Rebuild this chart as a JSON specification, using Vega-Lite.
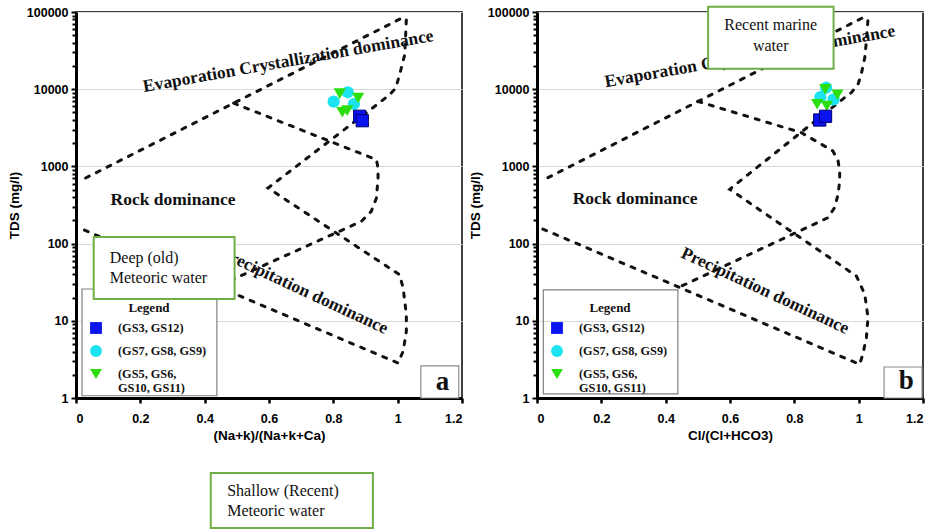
{
  "$schema": "https://vega.github.io/schema/vega-lite/v6.json",
  "background": "white",
  "padding": {"left": 6, "top": 4, "right": 5, "bottom": 0},
  "bounds": "flush",
  "spacing": 75,
  "config": {
    "view": {"stroke": "#000", "strokeWidth": 1.5},
    "axis": {
      "domainColor": "#000",
      "domainWidth": 3,
      "tickColor": "#000",
      "labelFont": "Liberation Sans",
      "labelFontWeight": "bold",
      "labelFontSize": 12.5,
      "labelColor": "#000",
      "titleFont": "Liberation Sans",
      "titleFontWeight": "bold",
      "titleFontSize": 13.5,
      "titleColor": "#000"
    },
    "axisX": {"tickSize": 5, "tickWidth": 2.5, "labelPadding": 9, "titlePadding": 4, "grid": false},
    "axisY": {"labelPadding": 3, "titlePadding": 5, "gridColor": "#d9d9d9", "tickWidth": 2},
    "legend": {
      "orient": "none", "legendX": 8, "legendY": 282, "direction": "vertical", "padding": 8,
      "titleFont": "Liberation Serif", "titleFontSize": 13, "titleFontWeight": "bold", "titleColor": "#111",
      "titleAnchor": "middle", "titlePadding": 6,
      "labelFont": "Liberation Serif", "labelFontSize": 12.3, "labelFontWeight": "bold", "labelColor": "#111",
      "labelOffset": 15, "rowPadding": 9, "symbolSize": 140, "symbolOffset": -3, "labelLimit": 200
    }
  },
  "datasets": {
    "points": [
      {"panel": "a", "group": "(GS7, GS8, GS9)", "x": 0.801, "tds": 6890},
      {"panel": "a", "group": "(GS7, GS8, GS9)", "x": 0.845, "tds": 9120},
      {"panel": "a", "group": "(GS7, GS8, GS9)", "x": 0.864, "tds": 6430},
      {"panel": "a", "group": "(GS5, GS6, GS10, GS11)", "x": 0.820, "tds": 8750},
      {"panel": "a", "group": "(GS5, GS6, GS10, GS11)", "x": 0.877, "tds": 7690},
      {"panel": "a", "group": "(GS5, GS6, GS10, GS11)", "x": 0.828, "tds": 5020},
      {"panel": "a", "group": "(GS5, GS6, GS10, GS11)", "x": 0.843, "tds": 5270},
      {"panel": "a", "group": "(GS3, GS12)", "x": 0.882, "tds": 4457},
      {"panel": "a", "group": "(GS3, GS12)", "x": 0.890, "tds": 3909},
      {"panel": "b", "group": "(GS7, GS8, GS9)", "x": 0.899, "tds": 10450},
      {"panel": "b", "group": "(GS7, GS8, GS9)", "x": 0.881, "tds": 7920},
      {"panel": "b", "group": "(GS7, GS8, GS9)", "x": 0.922, "tds": 7400},
      {"panel": "b", "group": "(GS5, GS6, GS10, GS11)", "x": 0.896, "tds": 9970},
      {"panel": "b", "group": "(GS5, GS6, GS10, GS11)", "x": 0.934, "tds": 8490},
      {"panel": "b", "group": "(GS5, GS6, GS10, GS11)", "x": 0.871, "tds": 6370},
      {"panel": "b", "group": "(GS5, GS6, GS10, GS11)", "x": 0.901, "tds": 6060},
      {"panel": "b", "group": "(GS3, GS12)", "x": 0.879, "tds": 3990},
      {"panel": "b", "group": "(GS3, GS12)", "x": 0.897, "tds": 4457}
    ],
    "curves": [
      {"panel": "a", "curve": "outer", "i": 0, "x": 0.030, "tds": 708},
      {"panel": "a", "curve": "outer", "i": 1, "x": 1.017, "tds": 85000},
      {"panel": "a", "curve": "outer", "i": 2, "x": 1.027, "tds": 80000},
      {"panel": "a", "curve": "outer", "i": 3, "x": 1.022, "tds": 28000},
      {"panel": "a", "curve": "outer", "i": 4, "x": 1.006, "tds": 15400},
      {"panel": "a", "curve": "outer", "i": 5, "x": 0.994, "tds": 10370},
      {"panel": "a", "curve": "outer", "i": 6, "x": 0.975, "tds": 8490},
      {"panel": "a", "curve": "outer", "i": 7, "x": 0.949, "tds": 6970},
      {"panel": "a", "curve": "outer", "i": 8, "x": 0.597, "tds": 525},
      {"panel": "a", "curve": "outer", "i": 9, "x": 1.006, "tds": 39.5},
      {"panel": "a", "curve": "outer", "i": 10, "x": 1.017, "tds": 26.6},
      {"panel": "a", "curve": "outer", "i": 11, "x": 1.027, "tds": 12},
      {"panel": "a", "curve": "outer", "i": 12, "x": 1.027, "tds": 7.3},
      {"panel": "a", "curve": "outer", "i": 13, "x": 1.017, "tds": 4.03},
      {"panel": "a", "curve": "outer", "i": 14, "x": 1.001, "tds": 2.84},
      {"panel": "a", "curve": "outer", "i": 15, "x": 0.011, "tds": 159},
      {"panel": "a", "curve": "inner", "i": 0, "x": 0.490, "tds": 6600},
      {"panel": "a", "curve": "inner", "i": 1, "x": 0.934, "tds": 1222},
      {"panel": "a", "curve": "inner", "i": 2, "x": 0.939, "tds": 953},
      {"panel": "a", "curve": "inner", "i": 3, "x": 0.939, "tds": 708},
      {"panel": "a", "curve": "inner", "i": 4, "x": 0.934, "tds": 390},
      {"panel": "a", "curve": "inner", "i": 5, "x": 0.918, "tds": 262},
      {"panel": "a", "curve": "inner", "i": 6, "x": 0.887, "tds": 194},
      {"panel": "a", "curve": "inner", "i": 7, "x": 0.440, "tds": 28},
      {"panel": "b", "curve": "outer", "i": 0, "x": 0.034, "tds": 714},
      {"panel": "b", "curve": "outer", "i": 1, "x": 1.013, "tds": 84400},
      {"panel": "b", "curve": "outer", "i": 2, "x": 1.029, "tds": 80200},
      {"panel": "b", "curve": "outer", "i": 3, "x": 1.024, "tds": 42100},
      {"panel": "b", "curve": "outer", "i": 4, "x": 1.019, "tds": 25600},
      {"panel": "b", "curve": "outer", "i": 5, "x": 1.008, "tds": 15600},
      {"panel": "b", "curve": "outer", "i": 6, "x": 0.998, "tds": 11560},
      {"panel": "b", "curve": "outer", "i": 7, "x": 0.977, "tds": 9010},
      {"panel": "b", "curve": "outer", "i": 8, "x": 0.956, "tds": 7760},
      {"panel": "b", "curve": "outer", "i": 9, "x": 0.599, "tds": 505},
      {"panel": "b", "curve": "outer", "i": 10, "x": 0.993, "tds": 38},
      {"panel": "b", "curve": "outer", "i": 11, "x": 1.019, "tds": 22},
      {"panel": "b", "curve": "outer", "i": 12, "x": 1.029, "tds": 11},
      {"panel": "b", "curve": "outer", "i": 13, "x": 1.024, "tds": 6.04},
      {"panel": "b", "curve": "outer", "i": 14, "x": 1.013, "tds": 3.7},
      {"panel": "b", "curve": "outer", "i": 15, "x": 1.003, "tds": 2.73},
      {"panel": "b", "curve": "outer", "i": 16, "x": 0.008, "tds": 161},
      {"panel": "b", "curve": "inner", "i": 0, "x": 0.500, "tds": 6950},
      {"panel": "b", "curve": "inner", "i": 1, "x": 0.822, "tds": 2735},
      {"panel": "b", "curve": "inner", "i": 2, "x": 0.920, "tds": 1583},
      {"panel": "b", "curve": "inner", "i": 3, "x": 0.936, "tds": 1175},
      {"panel": "b", "curve": "inner", "i": 4, "x": 0.941, "tds": 872},
      {"panel": "b", "curve": "inner", "i": 5, "x": 0.941, "tds": 647},
      {"panel": "b", "curve": "inner", "i": 6, "x": 0.936, "tds": 435},
      {"panel": "b", "curve": "inner", "i": 7, "x": 0.925, "tds": 292},
      {"panel": "b", "curve": "inner", "i": 8, "x": 0.905, "tds": 217},
      {"panel": "b", "curve": "inner", "i": 9, "x": 0.444, "tds": 27.5}
    ],
    "zones": [
      {"panel": "a", "zone": "evap", "label": "Evaporation Crystallization dominance", "x": 0.660, "tds": 22860},
      {"panel": "a", "zone": "rock", "label": "Rock dominance", "x": 0.3015, "tds": 362},
      {"panel": "a", "zone": "precip", "label": "Precipitation dominance", "x": 0.709, "tds": 24.3},
      {"panel": "b", "zone": "evap", "label": "Evaporation Crystallization dominance", "x": 0.662, "tds": 26400},
      {"panel": "b", "zone": "rock", "label": "Rock dominance", "x": 0.305, "tds": 378},
      {"panel": "b", "zone": "precip", "label": "Precipitation dominance", "x": 0.709, "tds": 24.3}
    ],
    "legendFrame": [
      {"panel": "a", "x": 0.0187, "x2": 0.438, "tds": 1.07, "tds2": 25.8},
      {"panel": "b", "x": 0.0196, "x2": 0.438, "tds": 1.13, "tds2": 25.1}
    ],
    "notes": [
      {"panel": "a", "note": "deep", "x": 0.055, "x2": 0.493, "tds": 19.2, "tds2": 121.7},
      {"panel": "a", "note": "shallow", "x": 0.419, "x2": 0.923, "tds": 0.0207, "tds2": 0.1067},
      {"panel": "b", "note": "marine", "x": 0.532, "x2": 0.922, "tds": 18440, "tds2": 117200}
    ],
    "noteText": [
      {"panel": "a", "note": "deep", "label": "Deep (old)\nMeteoric water", "x": 0.105, "tds": 66},
      {"panel": "a", "note": "shallow", "label": "Shallow (Recent)\nMeteoric water", "x": 0.470, "tds": 0.0624},
      {"panel": "b", "note": "marine", "label": "Recent marine\nwater", "x": 0.7265, "tds": 67900}
    ],
    "tags": [
      {"panel": "a", "label": "a", "x": 1.072, "x2": 1.190, "tds": 1, "tds2": 2.60, "cx": 1.139, "cy": 1.61},
      {"panel": "b", "label": "b", "x": 1.079, "x2": 1.197, "tds": 1, "tds2": 2.52, "cx": 1.148, "cy": 1.66}
    ]
  },
  "resolve": {
    "scale": {"color": "independent", "shape": "independent"},
    "legend": {"color": "independent", "shape": "independent"}
  },
  "hconcat": [
    {
      "width": 386,
      "height": 386,
      "encoding": {
        "x": {
          "field": "x", "type": "quantitative",
          "scale": {"domain": [0, 1.2], "nice": false, "zero": false},
          "axis": {"title": "(Na+k)/(Na+k+Ca)", "values": [0, 0.2, 0.4, 0.6, 0.8, 1, 1.2], "format": "~g"}
        },
        "y": {
          "field": "tds", "type": "quantitative",
          "scale": {"type": "log", "domain": [1, 100000], "nice": false},
          "axis": {
            "title": "TDS (mg/l)",
            "values": [1, 2, 3, 4, 5, 6, 7, 8, 9, 10, 20, 30, 40, 50, 60, 70, 80, 90, 100, 200, 300, 400, 500, 600, 700, 800, 900, 1000, 2000, 3000, 4000, 5000, 6000, 7000, 8000, 9000, 10000, 20000, 30000, 40000, 50000, 60000, 70000, 80000, 90000, 100000],
            "format": "d",
            "labelOverlap": false,
            "labelExpr": "indexof([1, 10, 100, 1000, 10000, 100000], datum.value) >= 0 ? datum.label : ''",
            "tickSize": {"condition": {"test": "indexof([1, 10, 100, 1000, 10000, 100000], datum.value) >= 0", "value": 5}, "value": 4},
            "grid": true,
            "gridOpacity": {"condition": {"test": "indexof([1, 10, 100, 1000, 10000, 100000], datum.value) >= 0", "value": 1}, "value": 0}
          }
        }
      },
      "layer": [
        {
          "data": {"name": "curves"},
          "transform": [{"filter": "datum.panel == 'a'"}],
          "mark": {"type": "line", "color": "#111", "strokeWidth": 3, "strokeDash": [4, 8], "strokeCap": "round", "interpolate": "linear"},
          "encoding": {"detail": {"field": "curve"}, "order": {"field": "i", "type": "quantitative"}}
        },
        {
          "data": {"name": "zones"},
          "transform": [{"filter": "datum.panel == 'a' && datum.zone == 'evap'"}],
          "mark": {"type": "text", "angle": 350, "font": "Liberation Serif", "fontWeight": "bold", "fontSize": 17.5, "color": "#111", "align": "center", "baseline": "middle"},
          "encoding": {"text": {"field": "label"}}
        },
        {
          "data": {"name": "zones"},
          "transform": [{"filter": "datum.panel == 'a' && datum.zone == 'rock'"}],
          "mark": {"type": "text", "font": "Liberation Serif", "fontWeight": "bold", "fontSize": 17.5, "color": "#111", "align": "center", "baseline": "middle"},
          "encoding": {"text": {"field": "label"}}
        },
        {
          "data": {"name": "zones"},
          "transform": [{"filter": "datum.panel == 'a' && datum.zone == 'precip'"}],
          "mark": {"type": "text", "angle": 25, "font": "Liberation Serif", "fontWeight": "bold", "fontSize": 17.5, "color": "#111", "align": "center", "baseline": "middle"},
          "encoding": {"text": {"field": "label"}}
        },
        {
          "data": {"name": "legendFrame"},
          "transform": [{"filter": "datum.panel == 'a'"}],
          "mark": {"type": "rect", "fill": "white", "stroke": "#808080", "strokeWidth": 1.2},
          "encoding": {"x2": {"field": "x2"}, "y2": {"field": "tds2"}}
        },
        {
          "data": {"name": "points"},
          "transform": [{"filter": "datum.panel == 'a'"}],
          "mark": {"type": "point", "filled": true, "opacity": 1, "size": 150, "strokeWidth": 1},
          "encoding": {
            "color": {
              "field": "group", "type": "nominal",
              "scale": {"domain": ["(GS3, GS12)", "(GS7, GS8, GS9)", "(GS5, GS6, GS10, GS11)"], "range": ["#0a14f0", "#1ce3f0", "#2bdf0e"]},
              "legend": {"title": "Legend", "labelExpr": "datum.label == '(GS5, GS6, GS10, GS11)' ? ['(GS5, GS6,', 'GS10, GS11)'] : datum.label"}
            },
            "shape": {
              "field": "group", "type": "nominal",
              "scale": {"domain": ["(GS3, GS12)", "(GS7, GS8, GS9)", "(GS5, GS6, GS10, GS11)"], "range": ["square", "circle", "triangle-down"]},
              "legend": {"title": "Legend", "labelExpr": "datum.label == '(GS5, GS6, GS10, GS11)' ? ['(GS5, GS6,', 'GS10, GS11)'] : datum.label"}
            },
            "stroke": {"condition": {"test": "datum.group == '(GS3, GS12)'", "value": "#00006e"}, "value": null}
          }
        },
        {
          "data": {"name": "notes"},
          "transform": [{"filter": "datum.panel == 'a'"}],
          "mark": {"type": "rect", "fill": "white", "stroke": "#70ad47", "strokeWidth": 2},
          "encoding": {"x2": {"field": "x2"}, "y2": {"field": "tds2"}}
        },
        {
          "data": {"name": "noteText"},
          "transform": [{"filter": "datum.panel == 'a'"}],
          "mark": {"type": "text", "font": "Liberation Serif", "fontSize": 16, "color": "#111", "align": "left", "baseline": "middle", "lineBreak": "\n", "lineHeight": 20},
          "encoding": {"text": {"field": "label"}}
        },
        {
          "data": {"name": "tags"},
          "transform": [{"filter": "datum.panel == 'a'"}],
          "mark": {"type": "rect", "fill": "white", "stroke": "#8c8c8c", "strokeWidth": 1.2},
          "encoding": {"x2": {"field": "x2"}, "y2": {"field": "tds2"}}
        },
        {
          "data": {"name": "tags"},
          "transform": [{"filter": "datum.panel == 'a'"}],
          "mark": {"type": "text", "font": "Liberation Serif", "fontWeight": "bold", "fontSize": 27, "color": "#111", "align": "center", "baseline": "middle"},
          "encoding": {"x": {"field": "cx", "type": "quantitative"}, "y": {"field": "cy", "type": "quantitative"}, "text": {"field": "label"}}
        }
      ]
    },
    {
      "width": 386,
      "height": 386,
      "encoding": {
        "x": {
          "field": "x", "type": "quantitative",
          "scale": {"domain": [0, 1.2], "nice": false, "zero": false},
          "axis": {"title": "Cl/(Cl+HCO3)", "values": [0, 0.2, 0.4, 0.6, 0.8, 1, 1.2], "format": "~g"}
        },
        "y": {
          "field": "tds", "type": "quantitative",
          "scale": {"type": "log", "domain": [1, 100000], "nice": false},
          "axis": {
            "title": "TDS (mg/l)",
            "values": [1, 2, 3, 4, 5, 6, 7, 8, 9, 10, 20, 30, 40, 50, 60, 70, 80, 90, 100, 200, 300, 400, 500, 600, 700, 800, 900, 1000, 2000, 3000, 4000, 5000, 6000, 7000, 8000, 9000, 10000, 20000, 30000, 40000, 50000, 60000, 70000, 80000, 90000, 100000],
            "format": "d",
            "labelOverlap": false,
            "labelExpr": "indexof([1, 10, 100, 1000, 10000, 100000], datum.value) >= 0 ? datum.label : ''",
            "tickSize": {"condition": {"test": "indexof([1, 10, 100, 1000, 10000, 100000], datum.value) >= 0", "value": 5}, "value": 4},
            "grid": true,
            "gridOpacity": {"condition": {"test": "indexof([1, 10, 100, 1000, 10000, 100000], datum.value) >= 0", "value": 1}, "value": 0}
          }
        }
      },
      "layer": [
        {
          "data": {"name": "curves"},
          "transform": [{"filter": "datum.panel == 'b'"}],
          "mark": {"type": "line", "color": "#111", "strokeWidth": 3, "strokeDash": [4, 8], "strokeCap": "round", "interpolate": "linear"},
          "encoding": {"detail": {"field": "curve"}, "order": {"field": "i", "type": "quantitative"}}
        },
        {
          "data": {"name": "zones"},
          "transform": [{"filter": "datum.panel == 'b' && datum.zone == 'evap'"}],
          "mark": {"type": "text", "angle": 350, "font": "Liberation Serif", "fontWeight": "bold", "fontSize": 17.5, "color": "#111", "align": "center", "baseline": "middle"},
          "encoding": {"text": {"field": "label"}}
        },
        {
          "data": {"name": "zones"},
          "transform": [{"filter": "datum.panel == 'b' && datum.zone == 'rock'"}],
          "mark": {"type": "text", "font": "Liberation Serif", "fontWeight": "bold", "fontSize": 17.5, "color": "#111", "align": "center", "baseline": "middle"},
          "encoding": {"text": {"field": "label"}}
        },
        {
          "data": {"name": "zones"},
          "transform": [{"filter": "datum.panel == 'b' && datum.zone == 'precip'"}],
          "mark": {"type": "text", "angle": 25, "font": "Liberation Serif", "fontWeight": "bold", "fontSize": 17.5, "color": "#111", "align": "center", "baseline": "middle"},
          "encoding": {"text": {"field": "label"}}
        },
        {
          "data": {"name": "legendFrame"},
          "transform": [{"filter": "datum.panel == 'b'"}],
          "mark": {"type": "rect", "fill": null, "stroke": "#808080", "strokeWidth": 1.2},
          "encoding": {"x2": {"field": "x2"}, "y2": {"field": "tds2"}}
        },
        {
          "data": {"name": "points"},
          "transform": [{"filter": "datum.panel == 'b'"}],
          "mark": {"type": "point", "filled": true, "opacity": 1, "size": 150, "strokeWidth": 1},
          "encoding": {
            "color": {
              "field": "group", "type": "nominal",
              "scale": {"domain": ["(GS3, GS12)", "(GS7, GS8, GS9)", "(GS5, GS6, GS10, GS11)"], "range": ["#0a14f0", "#1ce3f0", "#2bdf0e"]},
              "legend": {"title": "Legend", "labelExpr": "datum.label == '(GS5, GS6, GS10, GS11)' ? ['(GS5, GS6,', 'GS10, GS11)'] : datum.label"}
            },
            "shape": {
              "field": "group", "type": "nominal",
              "scale": {"domain": ["(GS3, GS12)", "(GS7, GS8, GS9)", "(GS5, GS6, GS10, GS11)"], "range": ["square", "circle", "triangle-down"]},
              "legend": {"title": "Legend", "labelExpr": "datum.label == '(GS5, GS6, GS10, GS11)' ? ['(GS5, GS6,', 'GS10, GS11)'] : datum.label"}
            },
            "stroke": {"condition": {"test": "datum.group == '(GS3, GS12)'", "value": "#00006e"}, "value": null}
          }
        },
        {
          "data": {"name": "notes"},
          "transform": [{"filter": "datum.panel == 'b'"}],
          "mark": {"type": "rect", "fill": "white", "stroke": "#70ad47", "strokeWidth": 2},
          "encoding": {"x2": {"field": "x2"}, "y2": {"field": "tds2"}}
        },
        {
          "data": {"name": "noteText"},
          "transform": [{"filter": "datum.panel == 'b'"}],
          "mark": {"type": "text", "font": "Liberation Serif", "fontSize": 16, "color": "#111", "align": "center", "baseline": "middle", "lineBreak": "\n", "lineHeight": 21},
          "encoding": {"text": {"field": "label"}}
        },
        {
          "data": {"name": "tags"},
          "transform": [{"filter": "datum.panel == 'b'"}],
          "mark": {"type": "rect", "fill": "white", "stroke": "#8c8c8c", "strokeWidth": 1.2},
          "encoding": {"x2": {"field": "x2"}, "y2": {"field": "tds2"}}
        },
        {
          "data": {"name": "tags"},
          "transform": [{"filter": "datum.panel == 'b'"}],
          "mark": {"type": "text", "font": "Liberation Serif", "fontWeight": "bold", "fontSize": 27, "color": "#111", "align": "center", "baseline": "middle"},
          "encoding": {"x": {"field": "cx", "type": "quantitative"}, "y": {"field": "cy", "type": "quantitative"}, "text": {"field": "label"}}
        }
      ]
    }
  ]
}
